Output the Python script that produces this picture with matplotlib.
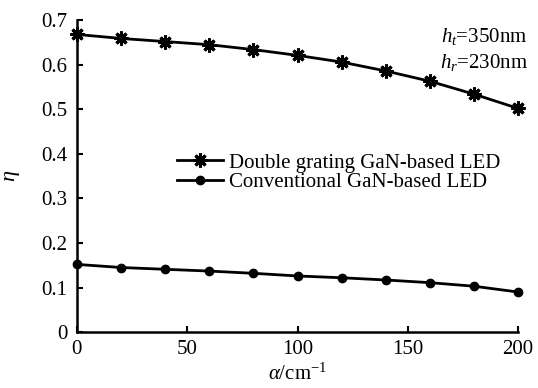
import matplotlib.pyplot as plt

# data
alpha = [0, 20, 40, 60, 80, 100, 120, 140, 160, 180, 200]
eta_double = [0.668, 0.659, 0.652, 0.645, 0.634, 0.621, 0.606, 0.586, 0.563, 0.534, 0.502]
eta_conv = [0.152, 0.145, 0.141, 0.137, 0.132, 0.126, 0.122, 0.117, 0.111, 0.103, 0.090]
x_ticks = [0, 50, 100, 150, 200]
y_ticks = [0, 0.1, 0.2, 0.3, 0.4, 0.5, 0.6, 0.7]
y_ticklabels = ['0', '0.1', '0.2', '0.3', '0.4', '0.5', '0.6', '0.7']

plt.rcParams['font.family'] = ['Liberation Serif', 'DejaVu Serif']
plt.rcParams['mathtext.fontset'] = 'custom'
plt.rcParams['mathtext.rm'] = 'Liberation Serif'
plt.rcParams['mathtext.it'] = 'Liberation Serif:italic'

fig = plt.figure(figsize=(5.38, 3.88), dpi=100)
ax = fig.add_axes([0.143, 0.144, 0.820, 0.804])

ax.plot(alpha, eta_double, color='black', lw=2, marker=(8, 2, 0), ms=10, mew=2.2,
        clip_on=False, label='Double grating GaN-based LED')
ax.plot(alpha, eta_conv, color='black', lw=2, marker='o', ms=6,
        clip_on=False, label='Conventional GaN-based LED')

ax.set_xlim(0, 200)
ax.set_ylim(0, 0.7)
ax.set_xticks(x_ticks)
ax.set_yticks(y_ticks)
ax.set_yticklabels(y_ticklabels)
ax.tick_params(direction='in', length=4, width=1.5, labelsize=15)
ax.tick_params(axis='y', pad=7)
ax.tick_params(axis='x', pad=6)
for s in ['top', 'right']:
    ax.spines[s].set_visible(False)
for s in ['left', 'bottom']:
    ax.spines[s].set_linewidth(1.8)

ax.set_xlabel(r'$\mathit{\alpha}$/cm$^{-1}$', fontsize=15, labelpad=3)
ax.set_ylabel(r'$\mathit{\eta}$', fontsize=16, labelpad=14)

fig.text(0.981, 0.907, r'$\mathit{h_t}$=350nm', ha='right', va='center', fontsize=15)
fig.text(0.981, 0.838, r'$\mathit{h_r}$=230nm', ha='right', va='center', fontsize=15)

leg = ax.legend(loc='center left', bbox_to_anchor=(0.227, 0.511), frameon=False,
                fontsize=15, handlelength=2.2, handletextpad=0.3, labelspacing=0.0,
                borderpad=0, borderaxespad=0)

fig.savefig('out.png', dpi=100)
